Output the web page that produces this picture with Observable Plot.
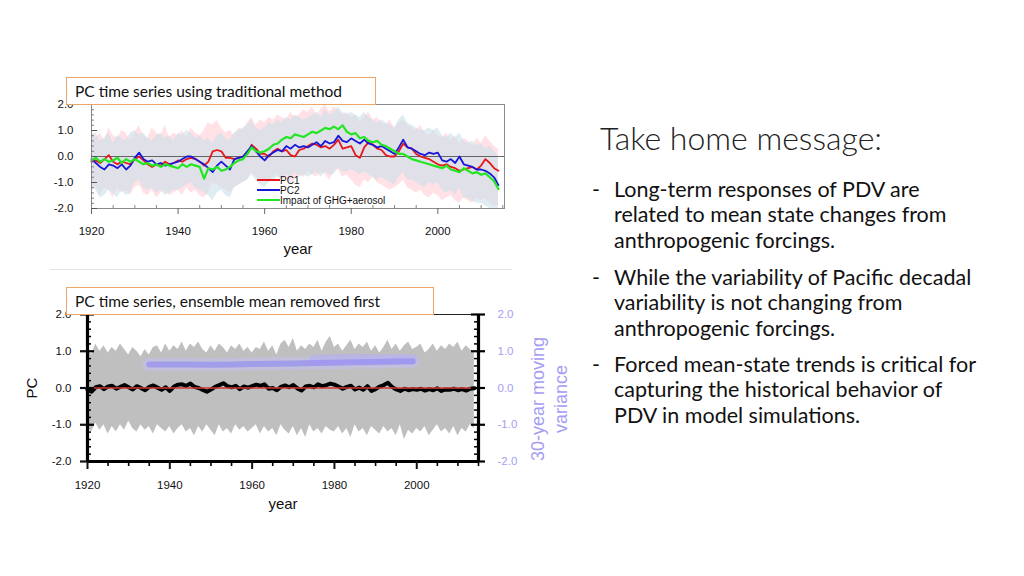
<!DOCTYPE html>
<html><head><meta charset="utf-8">
<script src="https://cdn.jsdelivr.net/npm/d3@7"></script>
<script src="https://cdn.jsdelivr.net/npm/@observablehq/plot@0.6"></script>
<style>
html,body{margin:0;padding:0;background:#fff;}
body{width:1024px;height:576px;overflow:hidden;position:relative;font-family:Lato,"Open Sans",sans-serif;color:#111;}
.abs{position:absolute;}
.box{position:absolute;border:1px solid #eba46a;background:#fff;font-family:Lato,sans-serif;font-size:15.5px;color:#111;padding-left:8px;box-sizing:border-box;line-height:26px;white-space:nowrap;}
.leg{position:absolute;font-family:"Liberation Sans",Arial,sans-serif;font-size:10px;color:#111;line-height:10px;white-space:nowrap;}
.leg i{display:inline-block;width:23px;height:2px;vertical-align:middle;margin-right:0;position:relative;top:-1px;}
.msg{position:absolute;left:592px;width:430px;font-family:Lato,sans-serif;font-size:21.5px;line-height:25.3px;color:#111;}
.msg .d{position:absolute;left:0;}
.msg .t{position:absolute;left:22px;white-space:nowrap;}
</style></head><body>
<div id="topChart" class="abs" style="left:40px;top:95px"></div>
<div id="botChart" class="abs" style="left:10px;top:300px"></div>
<div class="abs" style="left:50px;top:269px;width:462px;height:1px;background:#e4e4e4"></div>
<div class="box" style="left:66px;top:77px;width:310px;height:28px">PC time series using traditional method</div>
<div class="box" style="left:66px;top:287px;width:368px;height:28px">PC time series, ensemble mean removed first</div>
<div id="legend"></div>
<div class="abs" style="left:600px;top:118px;font-family:Lato,sans-serif;font-weight:300;font-size:32px;line-height:40px;color:#222;white-space:nowrap">Take home message:</div>
<div id="msgs"></div>
<script>
// ---------- data ----------
const years = d3.range(1920, 2015);
// Top chart: PC time series using traditional method
const pc1 = [-0.2,-0.15,-0.25,-0.1,0.05,-0.2,-0.3,-0.2,-0.25,-0.3,
 -0.1,0.0,-0.15,-0.3,-0.4,-0.3,-0.35,-0.2,-0.3,-0.25,
 -0.15,-0.2,-0.1,-0.05,-0.1,-0.2,-0.35,-0.2,0.2,0.25,
 0.2,-0.05,-0.05,-0.1,-0.05,0.0,0.1,0.45,0.3,0.1,
 0.1,0.0,0.2,0.3,0.2,0.25,0.05,0.0,0.25,0.3,
 0.4,0.5,0.45,0.35,0.4,0.3,0.45,0.65,0.3,0.35,
 0.4,0.05,-0.05,0.35,0.55,0.45,0.3,0.25,0.05,0.0,
 0.0,0.2,0.5,0.35,0.3,0.1,0.0,-0.05,-0.1,-0.2,
 -0.3,-0.35,-0.3,-0.4,-0.45,-0.55,-0.5,-0.45,-0.4,-0.5,
 -0.35,-0.1,-0.25,-0.45,-0.55];
const pc2 = [-0.1,-0.25,-0.4,-0.5,-0.3,-0.35,-0.45,-0.3,-0.5,-0.35,
 -0.05,0.15,-0.1,-0.2,-0.15,-0.3,-0.25,-0.35,-0.3,-0.25,
 -0.2,-0.1,0.0,0.0,-0.1,-0.2,-0.3,-0.45,-0.6,-0.35,
 -0.2,-0.35,-0.5,-0.1,-0.05,0.0,0.2,0.4,0.2,0.0,
 -0.15,0.05,0.15,0.25,0.2,0.4,0.3,0.45,0.35,0.4,
 0.35,0.45,0.55,0.4,0.6,0.5,0.55,0.8,0.6,0.55,
 0.7,0.6,0.5,0.65,0.5,0.45,0.35,0.4,0.3,0.2,
 0.1,0.35,0.65,0.35,0.3,0.2,0.1,0.05,0.15,0.1,
 0.15,-0.15,-0.2,-0.1,-0.25,0.0,-0.3,-0.35,-0.4,-0.5,
 -0.5,-0.55,-0.65,-0.8,-1.1];
const ghg = [-0.15,-0.05,-0.2,-0.1,-0.2,-0.15,-0.05,-0.25,-0.1,-0.2,
 -0.1,-0.2,-0.3,-0.25,-0.35,-0.3,-0.4,-0.3,-0.35,-0.4,
 -0.45,-0.3,-0.4,-0.3,-0.35,-0.4,-0.85,-0.45,-0.5,-0.4,
 -0.55,-0.5,-0.4,-0.25,-0.15,-0.1,0.1,0.35,0.2,0.15,
 0.2,0.3,0.45,0.5,0.65,0.75,0.7,0.85,0.8,0.75,
 0.85,0.95,0.9,1.0,1.1,1.05,1.15,1.05,1.2,0.95,
 0.85,0.9,0.7,0.75,0.6,0.55,0.6,0.45,0.4,0.3,
 0.2,0.1,0.1,0.0,-0.1,-0.15,-0.2,-0.25,-0.3,-0.35,
 -0.4,-0.45,-0.35,-0.5,-0.55,-0.6,-0.45,-0.55,-0.65,-0.6,
 -0.7,-0.65,-0.8,-0.95,-1.25];
const pc1Hi = [1.0,0.7,0.9,0.6,1.1,0.8,0.7,1.0,0.9,0.6,
 0.9,1.2,0.8,0.7,1.1,0.9,0.8,1.2,0.7,0.9,
 0.8,1.0,0.7,1.1,0.9,0.8,1.0,1.3,1.2,1.4,
 1.1,0.9,1.0,0.8,1.1,1.0,1.3,1.5,1.2,1.4,
 1.3,1.5,1.4,1.6,1.5,1.4,1.7,1.5,1.6,1.8,
 1.7,1.9,1.6,1.8,2.0,1.7,1.9,1.8,1.6,1.7,
 1.5,1.6,1.3,1.5,1.7,1.4,1.5,1.3,1.2,1.4,
 1.1,1.3,1.4,1.2,1.1,1.0,1.2,0.9,0.8,1.0,
 0.8,0.7,0.9,0.6,0.8,0.5,0.7,0.6,0.4,0.7,
 0.5,0.8,0.6,0.4,0.3];
const pc1Lo = [-1.4,-1.1,-1.5,-1.2,-1.3,-1.6,-1.2,-1.4,-1.3,-1.5,
 -1.2,-1.1,-1.4,-1.5,-1.3,-1.6,-1.4,-1.3,-1.5,-1.4,
 -1.3,-1.5,-1.2,-1.4,-1.3,-1.5,-1.6,-1.4,-1.0,-1.1,
 -1.2,-1.3,-1.4,-1.2,-1.1,-1.0,-0.9,-0.6,-0.8,-0.9,
 -0.9,-1.0,-0.8,-0.7,-0.9,-0.8,-1.0,-0.9,-0.7,-0.8,
 -0.6,-0.7,-0.8,-0.6,-0.7,-0.9,-0.6,-0.5,-0.8,-0.7,
 -0.9,-1.1,-1.2,-0.9,-1.0,-0.8,-1.0,-1.1,-1.2,-1.3,
 -1.2,-1.1,-0.9,-1.2,-1.3,-1.4,-1.3,-1.5,-1.6,-1.4,
 -1.5,-1.7,-1.6,-1.5,-1.7,-1.8,-1.6,-1.7,-1.8,-1.6,
 -1.7,-1.6,-1.8,-1.9,-1.9];
const pc2Hi = [0.8,0.9,0.6,0.7,0.9,0.5,0.8,0.7,0.6,0.9,
 1.0,0.8,0.9,0.7,0.6,0.8,0.9,0.7,0.8,0.6,
 0.9,0.8,1.0,0.9,0.7,0.8,0.6,0.7,0.5,0.8,
 0.9,0.7,0.6,0.9,1.0,1.1,1.2,1.4,1.1,1.0,
 1.1,1.3,1.2,1.4,1.3,1.5,1.4,1.6,1.5,1.4,
 1.5,1.6,1.7,1.5,1.8,1.6,1.7,1.9,1.7,1.6,
 1.7,1.6,1.5,1.7,1.5,1.4,1.3,1.4,1.3,1.2,
 1.1,1.4,1.6,1.3,1.2,1.1,1.0,1.0,1.1,1.0,
 1.1,0.8,0.7,0.9,0.7,0.9,0.6,0.5,0.6,0.4,
 0.5,0.3,0.4,0.2,0.0];
const pc2Lo = [-1.1,-1.3,-1.6,-1.5,-1.3,-1.4,-1.6,-1.3,-1.5,-1.4,
 -1.0,-0.9,-1.2,-1.3,-1.2,-1.4,-1.3,-1.5,-1.4,-1.3,
 -1.3,-1.2,-1.1,-1.0,-1.2,-1.3,-1.4,-1.5,-1.7,-1.4,
 -1.3,-1.5,-1.6,-1.2,-1.1,-1.0,-0.9,-0.7,-0.9,-1.1,
 -1.2,-1.0,-0.9,-0.8,-0.9,-0.7,-0.8,-0.6,-0.8,-0.7,
 -0.8,-0.7,-0.6,-0.8,-0.6,-0.7,-0.7,-0.4,-0.6,-0.6,
 -0.5,-0.6,-0.7,-0.6,-0.7,-0.8,-0.9,-0.8,-0.9,-1.0,
 -1.1,-0.8,-0.6,-0.9,-0.9,-1.0,-1.1,-1.2,-1.0,-1.1,
 -1.0,-1.3,-1.4,-1.3,-1.5,-1.2,-1.6,-1.6,-1.7,-1.8,
 -1.8,-1.9,-2.0,-2.0,-2.0];
// Bottom chart: ensemble mean removed first
const spreadHi = [1.1,0.9,1.2,1.0,1.15,0.95,1.1,1.0,1.2,1.05,
 0.9,1.1,1.0,0.85,1.05,0.9,1.1,1.15,0.95,1.2,
 1.0,1.15,1.05,1.25,1.0,1.2,1.1,1.25,1.05,0.95,
 1.15,1.0,1.2,1.1,0.95,1.15,1.05,1.2,1.0,1.1,
 0.95,1.1,1.05,1.25,1.0,1.15,0.9,1.2,1.3,1.1,
 1.35,1.0,1.15,1.05,1.2,1.1,1.3,1.0,1.25,1.4,
 1.1,1.2,1.0,1.15,1.3,1.05,1.2,1.1,1.25,1.0,
 1.15,0.95,1.1,1.3,1.05,1.2,1.0,1.15,1.25,1.05,
 1.1,1.2,0.95,1.05,1.2,1.0,1.15,1.05,1.2,1.1,
 1.25,1.0,1.15,1.05,0.95];
const spreadLo = [-1.05,-1.2,-0.95,-1.15,-1.0,-1.25,-1.05,-1.2,-1.0,-1.15,
 -0.9,-1.1,-1.2,-1.0,-1.15,-1.05,-1.25,-1.0,-1.1,-1.2,
 -1.05,-1.25,-1.1,-1.0,-1.2,-1.1,-1.3,-1.05,-1.2,-1.0,
 -1.15,-1.3,-1.0,-1.2,-1.1,-1.25,-1.0,-1.15,-1.05,-1.2,
 -1.1,-1.0,-1.25,-1.05,-1.2,-1.1,-1.3,-1.0,-1.15,-1.25,
 -1.05,-1.3,-1.1,-1.35,-1.0,-1.2,-1.1,-1.25,-1.05,-1.15,
 -1.2,-1.05,-1.25,-1.1,-1.35,-1.0,-1.2,-1.1,-1.3,-1.05,
 -1.15,-1.25,-1.05,-1.2,-1.1,-1.3,-1.0,-1.4,-1.15,-1.25,
 -1.1,-1.2,-1.05,-1.3,-1.15,-1.0,-1.2,-1.1,-1.25,-1.05,
 -1.3,-1.1,-1.2,-1.0,-1.1];
const pcResid = [-0.05,-0.1,0.02,0.05,-0.03,0.04,0.06,-0.02,0.03,0.08,
 0.02,-0.04,0.05,0.0,-0.06,0.03,0.07,0.01,-0.05,0.02,
 -0.08,0.04,0.09,0.1,0.06,0.12,0.03,0.0,-0.05,-0.1,
 -0.04,0.03,0.08,0.13,0.05,0.02,0.06,-0.03,0.04,0.01,
 0.05,0.09,0.06,0.1,-0.02,0.0,-0.06,0.03,0.07,0.02,
 0.08,-0.01,-0.07,0.04,0.06,0.02,0.1,0.05,0.08,0.12,
 0.09,0.04,-0.02,0.03,0.06,-0.04,0.01,-0.05,0.05,-0.08,
 -0.03,0.04,0.08,0.14,0.03,-0.04,-0.08,-0.02,-0.06,-0.03,
 -0.05,-0.02,-0.07,-0.03,-0.06,-0.01,-0.08,-0.04,-0.05,-0.02,
 -0.06,-0.03,-0.07,-0.02,-0.01];
const ensMean = [0];
const varYears = [1935,1940,1945,1950,1955,1960,1965,1970,1975,1980,1985,1990,1995,1999];
const variance = [0.64,0.64,0.64,0.63,0.64,0.65,0.66,0.67,0.68,0.69,0.70,0.71,0.72,0.73];
const var2Years = [1975,1980,1985,1990,1995,1999];
const variance2 = [0.76,0.79,0.79,0.78,0.78,0.77];
// tick values
const yMajor = [-2,-1,0,1,2];
const yMinor = [-1.8,-1.6,-1.4,-1.2,-0.8,-0.6,-0.4,-0.2,0.2,0.4,0.6,0.8,1.2,1.4,1.6,1.8];
const xMajor = [1920,1940,1960,1980,2000];
const xMinor = [1925,1930,1935,1945,1950,1955,1965,1970,1975,1985,1990,1995,2005,2010,2015];
const topXDomain = [1920, 2015.4];
const botXDomain = [1920, 2015];
const legendItems = ["PC1","PC2","Impact of GHG+aerosol"];
const legendColors = ["#e8161b","#1717d8","#22e622"];
const messages = [
 ["Long-term responses of PDV are","related to mean state changes from","anthropogenic forcings."],
 ["While the variability of Pacific decadal","variability is not changing from","anthropogenic forcings."],
 ["Forced mean-state trends is critical for","capturing the historical behavior of","PDV in model simulations."]
];

const fmt = d => d.toFixed(1);
const topRows = years.map((y,i)=>({year:y,pc1:pc1[i],pc2:pc2[i],ghg:ghg[i],ph:pc1Hi[i],pl:pc1Lo[i],bh:pc2Hi[i],bl:pc2Lo[i]}));
const botRows = years.map((y,i)=>({year:y,hi:spreadHi[i],lo:spreadLo[i],pc:pcResid[i]}));
const varRows = varYears.map((y,i)=>({year:y,v:variance[i]}));
const var2Rows = var2Years.map((y,i)=>({year:y,v:variance2[i]}));

// ---------- top chart ----------
const tW=480,tH=165,tL=51,tR=16,tT=9,tB=52;
const tFW=tW-tL-tR, tFH=tH-tT-tB;
const topPlot = Plot.plot({
  width:tW,height:tH,marginLeft:tL,marginRight:tR,marginTop:tT,marginBottom:tB,
  x:{domain:topXDomain},
  y:{domain:[-2,2]},
  style:{fontFamily:"'Liberation Sans',Arial,sans-serif",fontSize:"11.5px",color:"#111",background:"transparent",overflow:"visible"},
  marks:[
    Plot.areaY(topRows,{x:"year",y1:"pl",y2:"ph",fill:"#ffc4ce",fillOpacity:0.5}),
    Plot.areaY(topRows,{x:"year",y1:"bl",y2:"bh",fill:"#c9dfea",fillOpacity:0.6}),
    Plot.ruleY(ensMean,{stroke:"#555",strokeWidth:0.9}),
    Plot.lineY(topRows,{x:"year",y:"pc1",stroke:legendColors[0],strokeWidth:1.8}),
    Plot.lineY(topRows,{x:"year",y:"pc2",stroke:legendColors[1],strokeWidth:1.8}),
    Plot.lineY(topRows,{x:"year",y:"ghg",stroke:legendColors[2],strokeWidth:2.2}),
    Plot.frame({stroke:"#8a8a8a",strokeWidth:1}),
    Plot.tickY(yMinor,{y:d=>d,insetRight:tFW-3,stroke:"#666",strokeWidth:0.8}),
    Plot.tickY(yMajor,{y:d=>d,insetRight:tFW-6,stroke:"#555",strokeWidth:1}),
    Plot.tickX(xMinor,{x:d=>d,insetTop:tFH-3,stroke:"#666",strokeWidth:0.8}),
    Plot.axisY(yMajor,{anchor:"left",tickSize:0,tickPadding:18,tickFormat:fmt,label:null}),
    Plot.axisX(xMajor,{anchor:"bottom",tickSize:6,tickPadding:12,tickFormat:d=>String(d),label:null,stroke:"#666"}),
    Plot.text(["year"],{text:d=>d,frameAnchor:"bottom",dy:45,fontSize:15,fill:"#111"})
  ]
});
document.getElementById("topChart").appendChild(topPlot);

// ---------- bottom chart ----------
const bW=580,bH=220,bL=77,bR=112,bT=14,bB=59;
const bFW=bW-bL-bR, bFH=bH-bT-bB;
const purple="#a59df2";
const botPlot = Plot.plot({
  width:bW,height:bH,marginLeft:bL,marginRight:bR,marginTop:bT,marginBottom:bB,
  x:{domain:botXDomain},
  y:{domain:[-2,2]},
  style:{fontFamily:"'Liberation Sans',Arial,sans-serif",fontSize:"11.5px",color:"#111",background:"transparent",overflow:"visible"},
  marks:[
    Plot.areaY(botRows,{x:"year",y1:"lo",y2:"hi",fill:"#bfbfbf"}),
    Plot.lineY(botRows,{x:"year",y:"pc",stroke:"#000",strokeWidth:4}),
    Plot.ruleY(ensMean,{stroke:"#d23a3a",strokeWidth:1.6}),
    Plot.lineY(varRows,{x:"year",y:"v",stroke:"#c4bff5",strokeWidth:13,strokeOpacity:0.5,strokeLinecap:"round"}),
    Plot.lineY(var2Rows,{x:"year",y:"v",stroke:"#b3acf5",strokeWidth:10,strokeOpacity:0.5,strokeLinecap:"round"}),
    Plot.lineY(varRows,{x:"year",y:"v",stroke:"#928bf3",strokeWidth:6,strokeOpacity:0.65,strokeLinecap:"round"}),
    Plot.frame({stroke:"#222",strokeWidth:1}),
    Plot.ruleX(botXDomain,{stroke:"#000",strokeWidth:3.2}),
    Plot.ruleY([-2],{stroke:"#000",strokeWidth:3.2}),
    Plot.tickY(yMinor,{y:d=>d,insetRight:bFW-4,stroke:"#000",strokeWidth:1.5}),
    Plot.tickY(yMajor,{y:d=>d,insetRight:bFW-7,stroke:"#000",strokeWidth:2.2}),
    Plot.tickY(yMinor,{y:d=>d,insetLeft:bFW-4,stroke:"#000",strokeWidth:1.5}),
    Plot.tickY(yMajor,{y:d=>d,insetLeft:bFW-7,stroke:"#000",strokeWidth:2.2}),
    Plot.tickY(yMajor,{y:d=>d,insetLeft:bFW,insetRight:-7,stroke:"#000",strokeWidth:2.2}),
    Plot.tickX(xMinor,{x:d=>d,insetTop:bFH,insetBottom:-5,stroke:"#000",strokeWidth:1.6}),
    Plot.axisY(yMajor,{anchor:"left",tickSize:7,tickPadding:9,strokeWidth:2.2,tickFormat:fmt,label:null}),
    Plot.axisY(yMajor,{anchor:"right",tickSize:0,tickPadding:19,tickFormat:fmt,label:null,color:purple}),
    Plot.axisX(xMajor,{anchor:"bottom",tickSize:8,tickPadding:11,strokeWidth:2,tickFormat:d=>String(d),label:null}),
    Plot.text(["year"],{text:d=>d,frameAnchor:"bottom",dy:47,fontSize:15,fill:"#111"}),
    Plot.text(["PC"],{text:d=>d,frameAnchor:"left",textAnchor:"middle",dx:-55,rotate:-90,fontSize:15,fill:"#111"}),
    Plot.text(["30-year moving"],{text:d=>d,frameAnchor:"right",textAnchor:"middle",dx:60,dy:11,rotate:-90,fontSize:18,fill:purple}),
    Plot.text(["variance"],{text:d=>d,frameAnchor:"right",textAnchor:"middle",dx:83,dy:11,rotate:-90,fontSize:18,fill:purple})
  ]
});
document.getElementById("botChart").appendChild(botPlot);

// ---------- legend ----------
const leg = document.getElementById("legend");
legendItems.forEach((t,i)=>{
  const d=document.createElement("div");
  d.className="leg";
  d.style.left="257px"; d.style.top=(175.5+i*10)+"px";
  d.innerHTML=`<i style="background:${legendColors[i]}"></i>${t}`;
  leg.appendChild(d);
});
// ---------- messages ----------
const msgs=document.getElementById("msgs");
const tops=[177,265,352];
messages.forEach((lines,i)=>{
  const p=document.createElement("div");
  p.className="msg"; p.style.top=tops[i]+"px";
  p.innerHTML=`<span class="d">-</span>`+lines.map((l,j)=>`<span class="t" style="top:${j*25.3}px">${l}</span>`).join("");
  msgs.appendChild(p);
});
</script>
</body></html>
